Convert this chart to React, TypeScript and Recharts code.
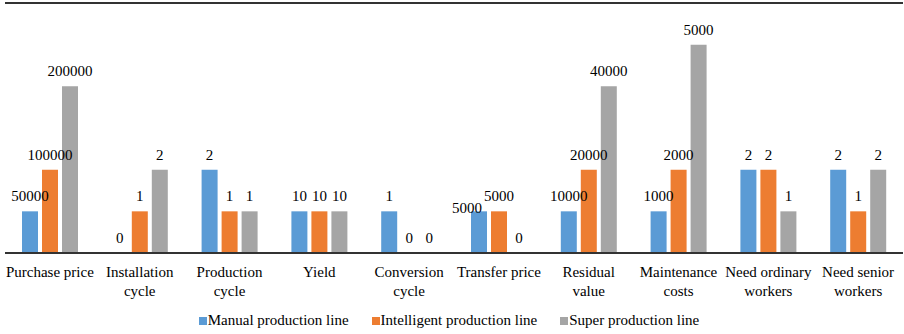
import {
  BarChart,
  Bar,
  XAxis,
  YAxis,
  CartesianGrid,
  LabelList,
  Legend,
  ReferenceLine,
} from "recharts";

const categories = [
  "Purchase price",
  "Installation cycle",
  "Production cycle",
  "Yield",
  "Conversion cycle",
  "Transfer price",
  "Residual value",
  "Maintenance costs",
  "Need ordinary workers",
  "Need senior workers",
];

// how the axis labels are broken into lines
const tickLines = [
  ["Purchase price"],
  ["Installation", "cycle"],
  ["Production", "cycle"],
  ["Yield"],
  ["Conversion", "cycle"],
  ["Transfer price"],
  ["Residual", "value"],
  ["Maintenance", "costs"],
  ["Need ordinary", "workers"],
  ["Need senior", "workers"],
];

// bar heights (levels) as drawn
const manualLevel = [1, 0, 2, 1, 1, 1, 1, 1, 2, 2];
const intelligentLevel = [2, 1, 1, 1, 0, 1, 2, 2, 2, 1];
const superLevel = [4, 2, 1, 1, 0, 0, 4, 5, 1, 2];

// values printed over the bars
const manualLabel = ["50000", "0", "2", "10", "1", "5000", "10000", "1000", "2", "2"];
const intelligentLabel = ["100000", "1", "1", "10", "0", "5000", "20000", "2000", "2", "1"];
const superLabel = ["200000", "2", "1", "10", "0", "0", "40000", "5000", "1", "2"];

const yTicks = [0, 1, 2, 3, 4, 5, 6];

const series = [
  { key: "manual", name: "Manual production line", color: "#5B9BD5" },
  { key: "intelligent", name: "Intelligent production line", color: "#ED7D31" },
  { key: "super", name: "Super production line", color: "#A5A5A5" },
];

const data = categories.map((c, i) => ({
  category: c,
  manual: manualLevel[i],
  intelligent: intelligentLevel[i],
  super: superLevel[i],
  manualText: manualLabel[i],
  intelligentText: intelligentLabel[i],
  superText: superLabel[i],
}));

const FONT = "'Liberation Serif', 'Times New Roman', serif";

const CategoryTick = (props: any) => {
  const { x, y, payload } = props;
  const lines = tickLines[payload.index] || [payload.value];
  return (
    <text x={x} y={y} textAnchor="middle" fontFamily={FONT} fontSize={15} fill="#000">
      {lines.map((l: string, i: number) => (
        <tspan key={i} x={x} dy={i === 0 ? 24 : 19}>
          {l}
        </tspan>
      ))}
    </text>
  );
};

// the "5000" over the manual bar of Transfer price sits lower-left in the original
const makeLabel = (nudge?: { index: number; dx: number; dy: number }) => (props: any) => {
  const { x, y, width, height, index, value } = props;
  let dx = 0;
  let dy = 0;
  if (nudge && nudge.index === index) {
    dx = nudge.dx;
    dy = nudge.dy;
  }
  const top = height < 0 ? y + height : y;
  return (
    <text
      x={x + width / 2 + dx}
      y={top - 10 + dy}
      textAnchor="middle"
      fontFamily={FONT}
      fontSize={15}
      fill="#000"
    >
      {value}
    </text>
  );
};

const LegendBox = () => (
  <div
    style={{
      display: "flex",
      justifyContent: "center",
      gap: 23,
      fontFamily: FONT,
      fontSize: 15,
      color: "#000",
      paddingRight: 6,
    }}
  >
    {series.map((s) => (
      <div key={s.key} style={{ display: "flex", alignItems: "center" }}>
        <span style={{ width: 8, height: 8, background: s.color, marginRight: 1, display: "inline-block" }} />
        <span>{s.name}</span>
      </div>
    ))}
  </div>
);

export default function App() {
  return (
    <div style={{ position: "absolute", left: 0, top: 0, background: "#fff" }}>
      <BarChart
        width={904}
        height={334}
        data={data}
        margin={{ top: 3, right: 1, left: 5, bottom: 31 }}
        barSize={16}
        barGap={4}
      >
        <CartesianGrid vertical={false} stroke="#D9D9D9" strokeWidth={1.5} />
        {series.map((s) => (
          <Bar
            key={s.key}
            dataKey={s.key}
            name={s.name}
            fill={s.color}
            minPointSize={0.01}
            isAnimationActive={false}
          >
            <LabelList
              dataKey={s.key + "Text"}
              content={makeLabel(s.key === "manual" ? { index: 5, dx: -12, dy: 12 } : undefined)}
            />
          </Bar>
        ))}
        <XAxis
          dataKey="category"
          interval={0}
          height={50}
          tickLine={false}
          tickSize={0}
          tickMargin={0}
          axisLine={{ stroke: "#333", strokeWidth: 2 }}
          tick={<CategoryTick />}
        />
        <YAxis
          domain={[0, 6]}
          ticks={yTicks}
          width={0}
          tick={false}
          tickLine={false}
          axisLine={{ stroke: "#333", strokeWidth: 2 }}
        />
        <ReferenceLine y={6} stroke="#333" strokeWidth={2} />
        <Legend
          layout="horizontal"
          verticalAlign="middle"
          align="center"
          wrapperStyle={{ top: 312, left: 0, width: 904 }}
          content={<LegendBox />}
        />
      </BarChart>
    </div>
  );
}
